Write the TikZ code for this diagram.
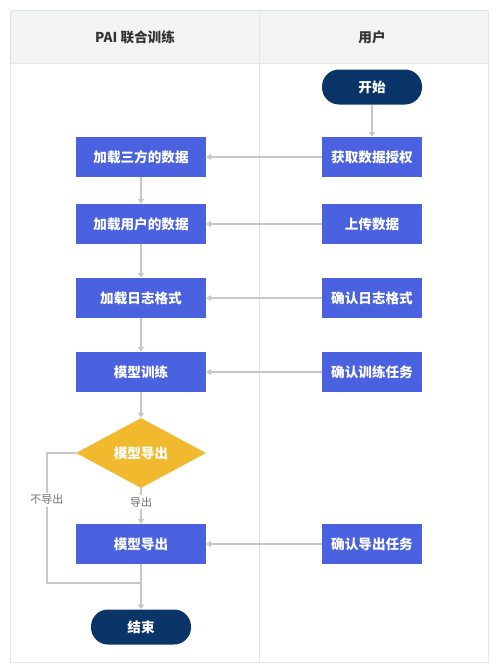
\documentclass[tikz,border=0pt]{standalone}
\usepackage{fontspec}
\setmainfont{Noto Sans CJK SC}
\usetikzlibrary{arrows.meta,positioning,shapes.geometric}

\definecolor{taskblue}{HTML}{4A62E0}
\definecolor{navy}{HTML}{0B3468}
\definecolor{gold}{HTML}{F0B92E}
\definecolor{wire}{HTML}{C8C8C8}
\definecolor{frame}{HTML}{E4E5E5}
\definecolor{headbg}{HTML}{F2F3F3}

\begin{document}
\begin{tikzpicture}[x=1pt, y=-1pt,
    task/.style={fill=taskblue, text=white, align=center, minimum width=130pt, minimum height=40pt, inner sep=0pt, font=\fontsize{13.6}{15}\selectfont\bfseries},
    usr/.style={task, minimum width=100pt},
    term/.style={fill=navy, text=white, rounded corners=17pt, minimum width=100pt, minimum height=35pt, inner sep=0pt, font=\fontsize{13.6}{15}\selectfont\bfseries},
    choice/.style={diamond, aspect=1.86, fill=gold, text=white, minimum width=130pt, minimum height=70pt, inner sep=0pt, font=\fontsize{13.6}{15}\selectfont\bfseries},
    head/.style={text=black!80, font=\fontsize{13.6}{15}\selectfont\bfseries},
    lbl/.style={fill=white, text=black!55, inner sep=2pt, font=\fontsize{11}{13}\selectfont},
    arrow/.style={-{Triangle[width=6pt,length=5pt]}, wire, line width=1.3pt},
    wireline/.style={wire, line width=1.3pt}
  ]
    \useasboundingbox (0,0) rectangle (496,670);

    % lanes
    \fill[headbg] (10,10) rectangle (488,63);
    \draw[frame, line width=1pt] (10,10) rectangle (488,662);
    \draw[frame, line width=1pt] (10,63) -- (488,63);
    \draw[frame, line width=1pt] (259,10) -- (259,662);
    \node[head] (hpai) at (135,37) {PAI 联合训练};
    \node[head] (husr) at (372,37) {用户};

    % user side
    \node[term] (start) at (372,87) {开始};
    \node[usr] (auth) at (372,157) {获取数据授权};
    \node[usr] (upload) at (372,224) {上传数据};
    \node[usr] (logfmt) at (372,298) {确认日志格式};
    \node[usr] (trainjob) at (372,372) {确认训练任务};
    \node[usr] (exportjob) at (372,544) {确认导出任务};

    % PAI side
    \node[task] (thirddata) at (141,157) {加载三方的数据};
    \node[task] (userdata) at (141,224) {加载用户的数据};
    \node[task] (loadlog) at (141,298) {加载日志格式};
    \node[task] (train) at (141,372) {模型训练};
    \node[choice] (ask) at (141,453) {模型导出};
    \node[task] (export) at (141,544) {模型导出};
    \node[term] (stop) at (141,627) {结束};

    \coordinate (skip) at (47,583);
    \coordinate (merge) at (141,583);

    \draw[arrow] (start) -- (auth);
    \draw[arrow] (auth) -- (thirddata);
    \draw[arrow] (upload) -- (userdata);
    \draw[arrow] (logfmt) -- (loadlog);
    \draw[arrow] (trainjob) -- (train);
    \draw[arrow] (exportjob) -- (export);

    \draw[arrow] (thirddata) -- (userdata);
    \draw[arrow] (userdata) -- (loadlog);
    \draw[arrow] (loadlog) -- (train);
    \draw[arrow] (train) -- (ask);
    \draw[arrow] (ask) -- node[lbl, pos=0.4]{导出} (export);
    \draw[arrow] (export) -- (stop);
    \draw[wireline] (ask.west) -- (ask.west -| skip) -- node[lbl, pos=0.36]{不导出} (skip) -- (merge);
  \end{tikzpicture}
\end{document}
